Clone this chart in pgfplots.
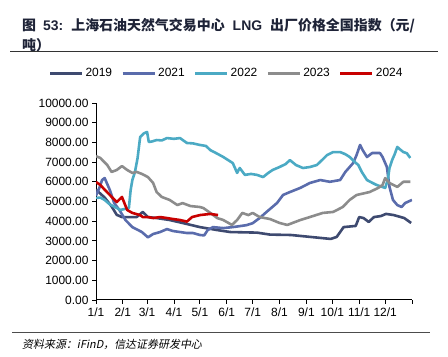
\documentclass[border=0pt]{standalone}
\usepackage{pgfplots}
\pgfplotsset{compat=1.18}
\usepackage{fontspec}
\setmainfont{Liberation Sans}
\newfontfamily\cjk{Noto Sans CJK SC}
\newfontfamily\cjkit[FakeSlant=0.2]{Noto Sans CJK SC}
\definecolor{c2019}{RGB}{62,74,112}
\definecolor{c2021}{RGB}{90,108,172}
\definecolor{c2022}{RGB}{75,170,196}
\definecolor{c2023}{RGB}{140,140,140}
\definecolor{c2024}{RGB}{200,0,0}
\definecolor{titlec}{RGB}{30,35,55}
\begin{document}
\begin{tikzpicture}
\useasboundingbox (0bp,0bp) rectangle (448bp,357bp);
\node[anchor=west, font=\bfseries\fontsize{14}{16}\selectfont, text=titlec, inner sep=0] at (22bp,331bp) {{\cjk 图}\hspace{7bp}53:\hspace{8bp}{\cjk 上海石油天然气交易中心}\hspace{8bp}LNG\hspace{8bp}{\cjk 出厂价格全国指数（元/}};
\node[anchor=west, font=\cjk\bfseries\fontsize{14}{16}\selectfont, text=titlec, inner sep=0] at (22bp,312bp) {吨）};
\draw[line width=1bp, black!80] (10bp,305bp) -- (438bp,305bp);
\draw[line width=1bp, black!70] (12bp,24bp) -- (430bp,24bp);
\node[anchor=west, font=\cjkit\fontsize{11}{13}\selectfont, inner sep=0] at (22bp,13bp) {资料来源：iFinD，信达证券研发中心};
\begin{axis}[at={(96bp,57bp)}, anchor=south west, scale only axis, width=316bp, height=197bp,
  xmin=0, xmax=365, ymin=0, ymax=10000,
  axis x line*=bottom, axis y line*=left,
  axis line style={line width=1bp, black},
  tick align=outside, major tick length=4bp, tick style={line width=0.8bp, black},
  xtick={0,31,59,90,120,151,181,212,243,273,304,334,365},
  xticklabels={1/1,2/1,3/1,4/1,5/1,6/1,7/1,8/1,9/1,10/1,11/1,12/1,{}},
  ytick={0,1000,...,10000},
  scaled y ticks=false,
  yticklabel style={/pgf/number format/fixed, /pgf/number format/fixed zerofill, /pgf/number format/precision=2, /pgf/number format/1000 sep={}},
  /pgf/number format/assume math mode=true,
  ticklabel style={font=\fontsize{12}{14}\selectfont},
  legend columns=5,
  legend style={draw=none, at={(axis description cs:0.413,1.152)}, anchor=center, font=\fontsize{12}{14}\selectfont, /tikz/every even column/.append style={column sep=7bp}, inner sep=0pt},
  legend image code/.code={\draw[#1, line width=3bp] (0bp,0bp) -- (32bp,0bp);},
  every axis plot/.append style={line width=2.6bp, line join=round},
]
\addplot[c2019] coordinates {(0,5600) (10,5200) (18,4750) (24,4320) (30,4210) (39,4210) (47,4210) (54,4470) (60,4210) (70,4160) (85,4060) (100,3910) (120,3700) (140,3550) (155,3450) (186,3420) (201,3320) (225,3300) (248,3200) (271,3100) (278,3200) (286,3700) (300,3760) (304,4210) (309,4160) (315,3960) (321,4210) (329,4260) (335,4370) (344,4310) (356,4160) (364,3910)};
\addlegendentry{2019}
\addplot[c2021] coordinates {(0,5300) (4,5700) (7,6090) (10,6190) (16,5580) (21,4920) (27,4570) (34,4060) (42,3700) (53,3450) (60,3180) (66,3350) (74,3450) (82,3600) (89,3500) (97,3450) (105,3400) (112,3400) (120,3300) (125,3280) (129,3550) (135,3700) (147,3650) (158,3700) (174,3800) (181,3900) (189,4160) (197,4470) (209,4920) (216,5330) (224,5480) (236,5690) (247,5940) (259,6090) (270,6000) (282,6090) (288,6500) (297,6950) (301,7360) (305,7870) (308,7610) (313,7260) (319,7460) (328,7460) (331,7260) (336,6750) (339,5740) (343,5080) (348,4820) (353,4720) (357,4920) (365,5080)};
\addlegendentry{2021}
\addplot[c2022] coordinates {(0,5180) (5,5200) (10,5080) (16,4850) (22,4720) (28,4570) (33,4620) (38,4670) (40,5580) (42,6090) (45,6500) (48,7200) (51,8270) (55,8450) (59,8530) (61,8020) (65,8050) (70,8120) (76,8100) (82,8220) (90,8180) (97,8220) (105,7970) (112,7950) (120,7870) (127,7820) (132,7610) (139,7450) (147,7260) (158,6950) (163,6450) (166,6700) (172,6350) (179,6400) (186,6350) (193,6240) (199,6450) (204,6600) (212,6750) (219,6900) (224,7100) (231,6850) (239,6700) (247,6750) (255,6850) (261,7100) (267,7360) (274,7510) (282,7510) (288,7400) (293,7260) (299,7000) (303,6850) (307,6500) (313,6090) (319,5950) (324,5840) (330,5750) (334,5690) (337,6090) (339,6700) (342,7100) (345,7400) (348,7770) (351,7650) (355,7510) (359,7450) (363,7210)};
\addlegendentry{2022}
\addplot[c2023] coordinates {(0,7300) (5,7210) (13,6850) (18,6500) (24,6600) (30,6800) (36,6600) (42,6450) (47,6500) (53,6400) (60,6240) (66,5940) (70,5480) (76,5230) (85,5080) (94,4820) (100,4920) (109,4770) (120,4720) (124,4670) (132,4420) (140,4160) (147,4060) (157,3810) (163,4060) (169,4420) (176,4310) (181,4420) (189,4210) (201,4110) (212,3910) (221,3810) (227,3910) (236,4060) (247,4210) (262,4420) (274,4470) (285,4720) (293,5080) (301,5330) (316,5480) (326,5690) (331,5840) (334,6190) (339,5940) (348,5740) (355,6000) (363,6000)};
\addlegendentry{2023}
\addplot[c2024] coordinates {(0,5990) (5,5840) (10,5600) (16,5330) (24,4970) (30,5230) (36,4570) (42,4420) (51,4310) (54,4210) (60,4210) (66,4160) (74,4210) (82,4160) (89,4110) (97,4060) (105,3980) (111,4210) (120,4310) (132,4370) (141,4310)};
\addlegendentry{2024}
\end{axis}
\end{tikzpicture}
\end{document}
